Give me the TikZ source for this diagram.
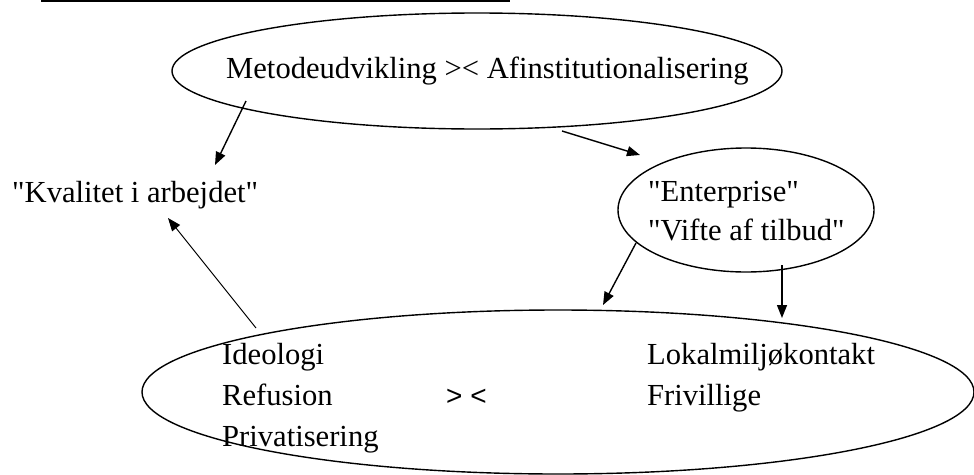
\documentclass[tikz,border=0pt]{standalone}
\usepackage{fontspec}
\setmainfont[Ligatures=TeXOff]{Liberation Serif}
\newfontfamily\sansfont{Liberation Sans}
\usetikzlibrary{shapes.geometric,arrows.meta}
\begin{document}
\begin{tikzpicture}[x=1pt,y=-1pt,
    oval/.style={draw,ellipse,inner sep=0pt,line width=1.4pt},
    txt/.style={anchor=base west,inner sep=0pt,font=\fontsize{30.6}{41}\selectfont},
    arr/.style={-{Triangle[length=13pt,width=10pt]},line width=1.4pt}]
  \useasboundingbox (0,0) rectangle (974,474);
  % title underline (title text itself is cut off)
  \draw[line width=1.6pt] (41,1) -- (510,1);
  % ellipses
  \node[oval,minimum width=610pt,minimum height=116pt] (metode) at (477,71) {};
  \node[oval,minimum width=256pt,minimum height=124pt] (enterprise) at (746,210) {};
  \node[oval,minimum width=832pt,minimum height=164pt] (lokal) at (558,392) {};
  % texts
  \node[txt] (metodetxt) at (226,78) {Metodeudvikling >< Afinstitutionalisering};
  \node[txt] (kvalitet) at (12,202) {"Kvalitet i arbejdet"};
  \node[txt] (enterprisetxt) at (648,201) {"Enterprise"};
  \node[txt] (vifte) at (648,240) {"Vifte af tilbud"};
  \node[txt] (ideologi) at (222,364) {Ideologi};
  \node[txt] (refusion) at (222,405) {Refusion};
  \node[txt] (privat) at (222,446) {Privatisering};
  \node[txt,font=\sansfont\fontsize{28}{41}\selectfont] (mod) at (446,405) {> <};
  \node[txt] (lokalmiljo) at (647,364) {Lokalmiljøkontakt};
  \node[txt] (frivillige) at (647,405) {Frivillige};
  % arrow ends
  \coordinate (m1) at (246,101);
  \coordinate (k1) at (215,165);
  \coordinate (m2) at (562,131);
  \coordinate (e1) at (640,155);
  \coordinate (l1) at (256,328);
  \coordinate (k2) at (168,218);
  \coordinate (e2) at (636,243);
  \coordinate (l2) at (603,305);
  \coordinate (e3) at (782,265);
  \coordinate (l3) at (782,318);
  % arrows
  \draw[arr] (m1) -- (k1);
  \draw[arr] (m2) -- (e1);
  \draw[arr,line width=1pt] (l1) -- (k2);
  \draw[arr] (e2) -- (l2);
  \draw[arr] (e3) -- (l3);
\end{tikzpicture}
\end{document}
